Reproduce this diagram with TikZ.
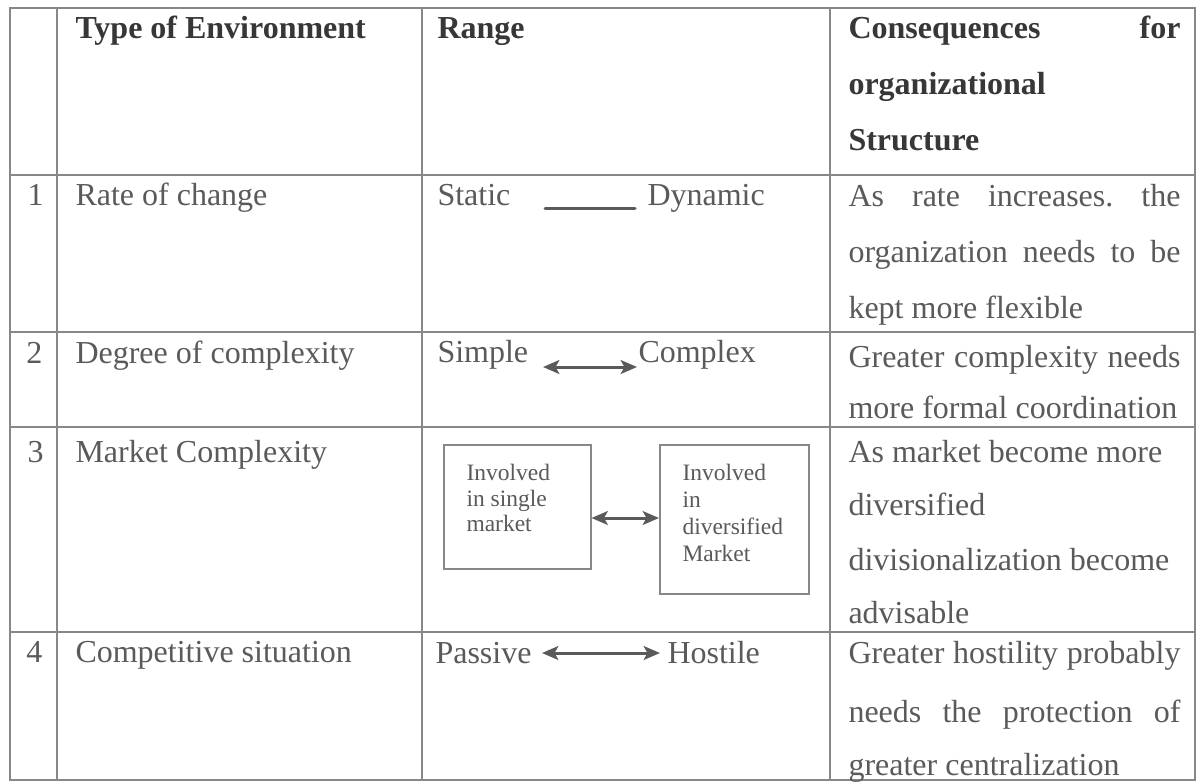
\documentclass[tikz,border=0pt]{standalone}
\usepackage{fontspec}
\setmainfont{Liberation Serif}
\usetikzlibrary{arrows.meta}
\definecolor{txt}{RGB}{90,90,90}
\definecolor{hdr}{RGB}{55,55,55}
\definecolor{rulec}{RGB}{135,135,135}
\newlength\conscw
\setlength\conscw{132.8pt}
\newcommand\jline[1]{\makebox[\conscw][s]{#1}}
\frenchspacing
\tikzset{
  cell/.style={anchor=base west, inner sep=0pt, text=txt, font=\fontsize{12.8}{15}\selectfont},
  head/.style={anchor=base west, inner sep=0pt, text=hdr, font=\fontsize{12.8}{15}\selectfont\bfseries},
  boxtxt/.style={anchor=base west, inner sep=0pt, text=txt, font=\fontsize{9.4}{11}\selectfont},
  mbox/.style={draw=rulec, line width=0.6pt, anchor=north west, inner sep=0pt},
  gridline/.style={draw=rulec, line width=0.8pt},
  rngline/.style={draw=txt, line width=1.2pt, line cap=round},
  rngarrow/.style={draw=txt, line width=1.2pt, {Stealth[length=6.5pt,width=5.5pt,inset=1.5pt]}-{Stealth[length=6.5pt,width=5.5pt,inset=1.5pt]}},
}
\begin{document}
\begin{tikzpicture}[x=0.4pt, y=-0.4pt]
\useasboundingbox (0,0) rectangle (1200,783);
\fill[white] (0,0) rectangle (1200,783);

% table grid
\draw[gridline] (10,8) rectangle (1195,780);
\draw[gridline] (57,8) -- (57,780);
\draw[gridline] (422,8) -- (422,780);
\draw[gridline] (830,8) -- (830,780);
\draw[gridline] (10,175) -- (1195,175);
\draw[gridline] (10,332) -- (1195,332);
\draw[gridline] (10,427) -- (1195,427);
\draw[gridline] (10,632) -- (1195,632);

% header
\node[head] (h1) at (75,38) {Type of Environment};
\node[head] (h2) at (437,38) {Range};
\node[head] (h3a) at (848,38) {\jline{Consequences for}};
\node[head] (h3b) at (848,94) {organizational};
\node[head] (h3c) at (848,150) {Structure};

% row 1
\node[cell] (n1) at (27,205) {1};
\node[cell] (t1) at (75,205) {Rate of change};
\node[cell] (r1a) at (437,205) {Static};
\node[cell] (r1b) at (647,205) {Dynamic};
\coordinate (s1a) at (545,208);
\coordinate (s1b) at (635,208);
\draw[rngline] (s1a) -- (s1b);
\node[cell] (c1a) at (848,206) {\jline{As rate increases. the}};
\node[cell] (c1b) at (848,262) {\jline{organization needs to be}};
\node[cell] (c1c) at (848,318) {kept more flexible};

% row 2
\node[cell] (n2) at (26,363) {2};
\node[cell] (t2) at (75,363) {Degree of complexity};
\node[cell] (r2a) at (437,362) {Simple};
\node[cell] (r2b) at (638,362) {Complex};
\coordinate (s2a) at (543,367);
\coordinate (s2b) at (637,367);
\draw[rngarrow] (s2a) -- (s2b);
\node[cell] (c2a) at (848,367) {\jline{Greater complexity needs}};
\node[cell] (c2b) at (848,418) {more formal coordination};

% row 3
\node[cell] (n3) at (27,462) {3};
\node[cell] (t3) at (75,462) {Market Complexity};
\node[mbox, minimum width=58.8pt, minimum height=49.6pt] (b1) at (443,444) {};
\node[mbox, minimum width=59.6pt, minimum height=59.6pt] (b2) at (659,444) {};
\node[boxtxt] (b1a) at (466,480) {Involved};
\node[boxtxt] (b1b) at (466,506) {in single};
\node[boxtxt] (b1c) at (466,531) {market};
\node[boxtxt] (b2a) at (682,480) {Involved};
\node[boxtxt] (b2b) at (682,507) {in};
\node[boxtxt] (b2c) at (682,534) {diversified};
\node[boxtxt] (b2d) at (682,561) {Market};
\coordinate (m3) at (620,518);
\draw[rngarrow] (b1.east |- m3) -- (b2.west |- m3);
\node[cell] (c3a) at (848,462) {As market become more};
\node[cell] (c3b) at (848,515) {diversified};
\node[cell] (c3c) at (848,570) {divisionalization become};
\node[cell] (c3d) at (848,623) {advisable};

% row 4
\node[cell] (n4) at (26,662) {4};
\node[cell] (t4) at (75,662) {Competitive situation};
\node[cell] (r4a) at (435,663) {Passive};
\node[cell] (r4b) at (667,663) {Hostile};
\coordinate (s4a) at (542,653);
\coordinate (s4b) at (660,653);
\draw[rngarrow] (s4a) -- (s4b);
\node[cell] (c4a) at (848,663) {\jline{Greater hostility probably}};
\node[cell] (c4b) at (848,722) {\jline{needs the protection of}};
\node[cell] (c4c) at (848,775) {greater centralization};
\end{tikzpicture}
\end{document}
